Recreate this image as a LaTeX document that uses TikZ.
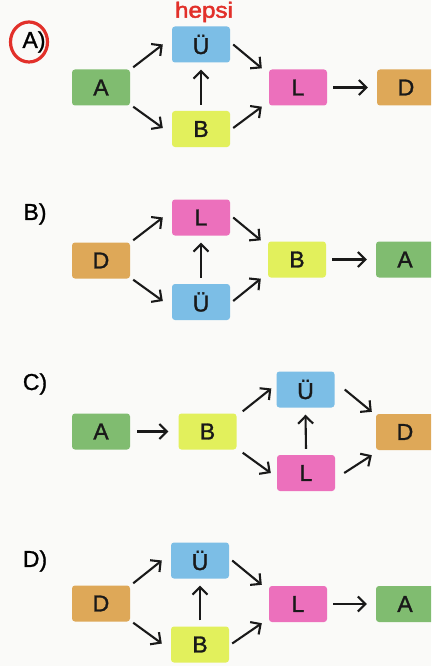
\documentclass[tikz,border=0pt]{standalone}
\usepackage{fontspec}
\setmainfont{Liberation Sans}
\newfontfamily\boxfont[FakeBold=1.2]{Liberation Sans}
\newfontfamily\notefont[FakeBold=2.2]{Liberation Sans}
\usetikzlibrary{arrows.meta,calc,shapes.geometric}

\definecolor{paper}{RGB}{250,250,248}
\definecolor{cgreen}{RGB}{128,188,112}
\definecolor{cblue}{RGB}{124,190,230}
\definecolor{cpink}{RGB}{236,112,188}
\definecolor{cyellow}{RGB}{226,240,92}
\definecolor{corange}{RGB}{222,168,88}
\definecolor{inkred}{RGB}{226,48,42}

\tikzset{
  box/.style={minimum width=58pt, minimum height=36pt, inner sep=0pt,
    rounded corners=3pt, font=\boxfont\fontsize{23}{23}\selectfont, text=black!90},
  gbox/.style={box, fill=cgreen},
  ubox/.style={box, fill=cblue},
  pbox/.style={box, fill=cpink},
  ybox/.style={box, fill=cyellow},
  obox/.style={box, fill=corange},
  optlabel/.style={font=\boxfont\fontsize{23}{23}\selectfont, inner sep=0pt},
  arr/.style={line width=2.1pt, black!90,
    -{Straight Barb[length=7.5pt,width=15pt,line width=2.1pt]}}
}

\begin{document}
\begin{tikzpicture}[x=1pt,y=-1pt]
  \fill[paper] (0,0) rectangle (431,666);
  \useasboundingbox (0,0) rectangle (431,666);
  \clip (0,0) rectangle (431,666);

  % ---- option A ----
  \node[optlabel] (lA) at (34,42) {A)};
  \node[draw=inkred, line width=3.2pt, ellipse, minimum width=37pt,
        minimum height=40pt, inner sep=0pt] (ring) at (29,42) {};
  \node[text=inkred, font=\notefont\fontsize{22}{22}\selectfont,
        inner sep=0pt, xscale=1.1] (note) at (204,12) {hepsi};
  \node[gbox] (aA) at (101,87.5) {A};
  \node[ubox] (aU) at (201,44.5) {Ü};
  \node[ybox] (aB) at (201,129)  {B};
  \node[pbox] (aL) at (298,87.5) {L};
  \node[obox] (aD) at (406,87.5) {D};
  \draw[arr] ($(aA.north east)+(3,-2)$) -- ($(aU.west)+(-9,0)$);
  \draw[arr] ($(aA.south east)+(3,1)$)  -- ($(aB.west)+(-9,-1)$);
  \draw[arr] ($(aU.east)+(3,0)$) -- ($(aL.north west)+(-7,-1)$);
  \draw[arr] ($(aB.east)+(3,-1)$) -- ($(aL.south west)+(-7,1)$);
  \draw[arr] ($(aB.north)+(0,-6)$) -- ($(aU.south)+(0,7)$);
  \draw[arr] ($(aL.east)+(6,0)$) -- ($(aD.west)+(-9,0)$);

  % ---- option B ----
  \node[optlabel] (lB) at (35,214) {B)};
  \node[obox] (bD) at (101,260.5) {D};
  \node[pbox] (bL) at (201,217.5) {L};
  \node[ubox] (bU) at (201,302)   {Ü};
  \node[ybox] (bB) at (297,259.5) {B};
  \node[gbox] (bA) at (405,259.5) {A};
  \draw[arr] ($(bD.north east)+(3,-2)$) -- ($(bL.west)+(-9,0)$);
  \draw[arr] ($(bD.south east)+(3,1)$)  -- ($(bU.west)+(-9,-1)$);
  \draw[arr] ($(bL.east)+(3,0)$) -- ($(bB.north west)+(-7,-1)$);
  \draw[arr] ($(bU.east)+(3,-1)$) -- ($(bB.south west)+(-7,1)$);
  \draw[arr] ($(bU.north)+(0,-6)$) -- ($(bL.south)+(0,7)$);
  \draw[arr] ($(bB.east)+(6,0)$) -- ($(bA.west)+(-9,0)$);

  % ---- option C ----
  \node[optlabel] (lC) at (35,384) {C)};
  \node[gbox] (cA) at (101,431.5)   {A};
  \node[ybox] (cB) at (207.5,431.5) {B};
  \node[ubox] (cU) at (305.5,389.5) {Ü};
  \node[pbox] (cL) at (306,473)     {L};
  \node[obox] (cD) at (405,432)     {D};
  \draw[arr] ($(cA.east)+(7,0)$) -- ($(cB.west)+(-10,0)$);
  \draw[arr] ($(cB.north east)+(6,-2)$) -- ($(cU.west)+(-5,-1)$);
  \draw[arr] ($(cB.south east)+(6,3)$)  -- ($(cL.west)+(-6,0)$);
  \draw[arr] ($(cU.east)+(10,0)$) -- ($(cD.north west)+(-4,-2)$);
  \draw[arr] ($(cL.east)+(9,0)$)  -- ($(cD.south west)+(-4,5)$);
  \draw[arr] ($(cL.north)+(0,-6)$) -- ($(cU.south)+(0,7)$);

  % ---- option D ----
  \node[optlabel] (lD) at (35,561) {D)};
  \node[obox] (dD) at (101,603.5) {D};
  \node[ubox] (dU) at (200,560.5) {Ü};
  \node[ybox] (dB) at (200,644.5) {B};
  \node[pbox] (dL) at (298,604)   {L};
  \node[gbox] (dA) at (405,604)   {A};
  \draw[arr] ($(dD.north east)+(3,-2)$) -- ($(dU.west)+(-9,0)$);
  \draw[arr] ($(dD.south east)+(3,1)$)  -- ($(dB.west)+(-9,-1)$);
  \draw[arr] ($(dU.east)+(3,0)$) -- ($(dL.north west)+(-7,-1)$);
  \draw[arr] ($(dB.east)+(3,-1)$) -- ($(dL.south west)+(-7,1)$);
  \draw[arr] ($(dB.north)+(0,-6)$) -- ($(dU.south)+(0,7)$);
  \draw[arr] ($(dL.east)+(6,0)$) -- ($(dA.west)+(-9,0)$);
\end{tikzpicture}
\end{document}
